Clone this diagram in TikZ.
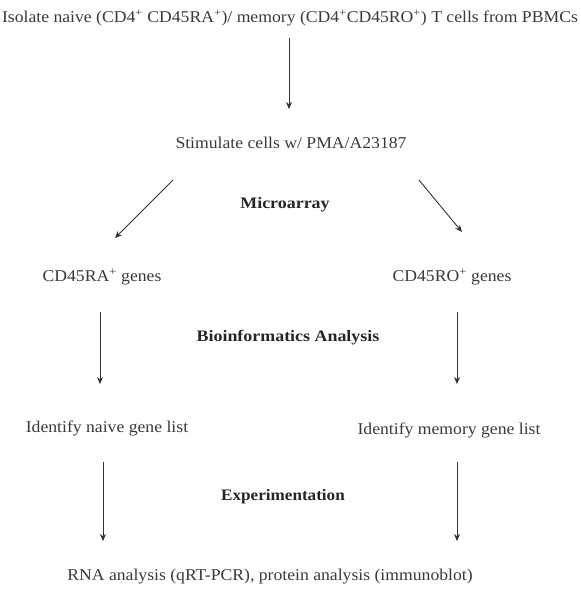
\documentclass[tikz,border=0pt]{standalone}
\usepackage{fontspec}
\setmainfont{Liberation Serif}
\usetikzlibrary{arrows.meta}
\definecolor{txt}{HTML}{3A3A3A}
\newcommand{\wide}[1]{\scalebox{1.07}[1]{#1}}
\newcommand{\wider}[1]{\scalebox{1.12}[1]{#1}}
\begin{document}
\begin{tikzpicture}[x=1pt,y=-1pt,
  lbl/.style={inner sep=0pt,text=txt,font=\fontsize{16.5}{19}\selectfont},
  hdr/.style={inner sep=0pt,text=black!85,font=\fontsize{16}{19}\selectfont\bfseries},
  arr/.style={draw=black!80,line width=0.9pt,-{Stealth[length=7pt,width=6pt]}}]
\useasboundingbox[fill=white] (0,0) rectangle (581,600);
\node[lbl] (iso) at (290,18) {\wide{Isolate naive (CD4\textsuperscript{+} CD45RA\textsuperscript{+})/ memory (CD4\textsuperscript{+}CD45RO\textsuperscript{+}) T cells from PBMCs}};
\node[lbl] (stim) at (291,143) {\wide{Stimulate cells w/ PMA/A23187}};
\node[hdr] (micro) at (285,205) {\wider{Microarray}};
\node[lbl] (ra) at (102,277) {\wide{CD45RA\textsuperscript{+} genes}};
\node[lbl] (ro) at (452,277) {\wide{CD45RO\textsuperscript{+} genes}};
\node[hdr] (bio) at (288,338) {\wider{Bioinformatics Analysis}};
\node[lbl] (naive) at (107,428) {\wide{Identify naive gene list}};
\node[lbl] (mem) at (449,430) {\wide{Identify memory gene list}};
\node[hdr] (exp) at (283,497) {\wide{Experimentation}};
\node[lbl] (rna) at (270,577) {\wide{RNA analysis (qRT-PCR), protein analysis (immunoblot)}};
\coordinate (a1s) at (289,38); \coordinate (a1e) at (289,109);
\coordinate (a2s) at (173,180); \coordinate (a2e) at (115,238);
\coordinate (a3s) at (419,180); \coordinate (a3e) at (462,232);
\coordinate (a4s) at (100,312); \coordinate (a4e) at (100,384);
\coordinate (a5s) at (457,312); \coordinate (a5e) at (457,384);
\coordinate (a6s) at (103,462); \coordinate (a6e) at (103,541);
\coordinate (a7s) at (457,462); \coordinate (a7e) at (457,541);
\draw[arr] (a1s) -- (a1e);
\draw[arr] (a2s) -- (a2e);
\draw[arr] (a3s) -- (a3e);
\draw[arr] (a4s) -- (a4e);
\draw[arr] (a5s) -- (a5e);
\draw[arr] (a6s) -- (a6e);
\draw[arr] (a7s) -- (a7e);
\end{tikzpicture}
\end{document}
